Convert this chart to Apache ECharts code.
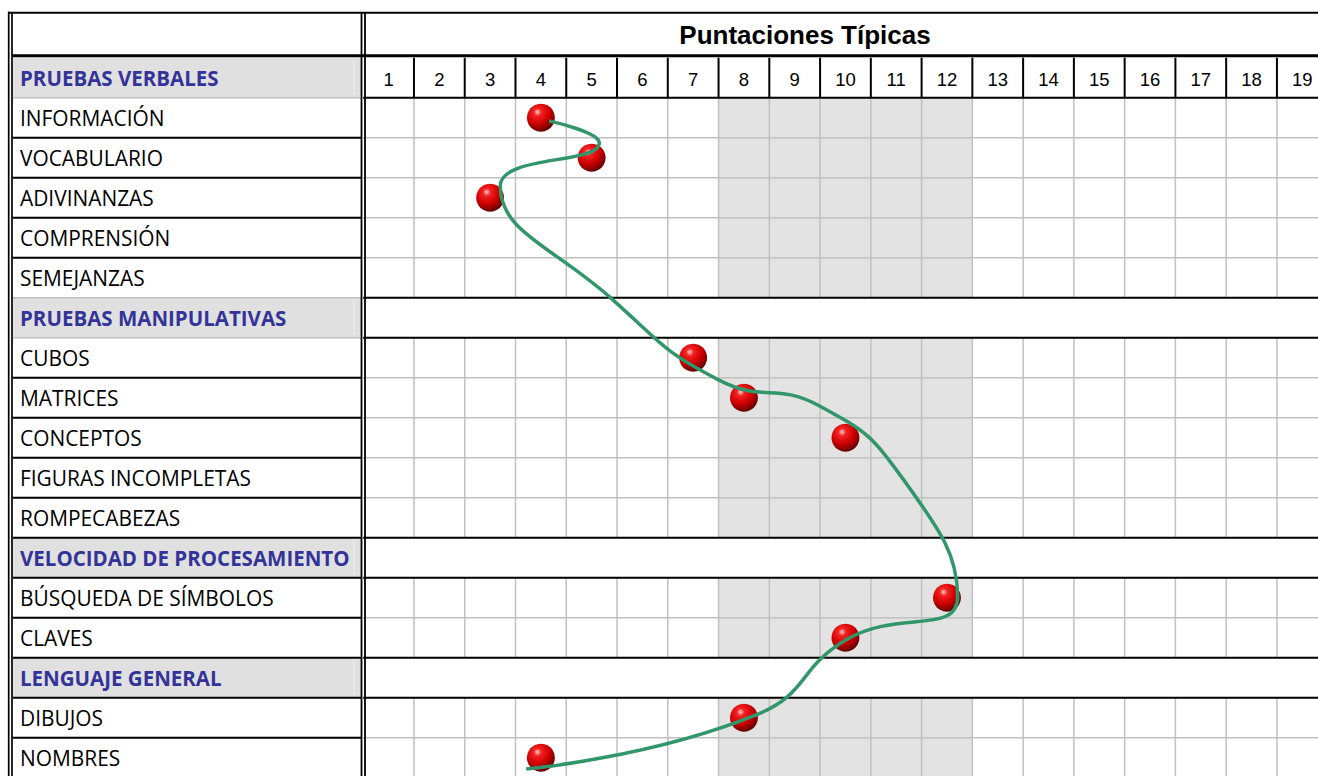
<!DOCTYPE html>
<html>
<head>
<meta charset="utf-8">
<script src="https://cdn.jsdelivr.net/npm/echarts@6/dist/echarts.min.js"></script>
<style>
html,body{margin:0;padding:0;background:#fff;}
#c{width:1318px;height:776px;}
</style>
</head>
<body>
<div id="c"></div>
<script>
// ---------------- data ----------------
const titleText = 'Puntaciones Típicas';
const scoreLabels = ['1','2','3','4','5','6','7','8','9','10','11','12','13','14','15','16','17','18','19'];
const rowLabels = [
  'PRUEBAS VERBALES','INFORMACIÓN','VOCABULARIO','ADIVINANZAS','COMPRENSIÓN','SEMEJANZAS',
  'PRUEBAS MANIPULATIVAS','CUBOS','MATRICES','CONCEPTOS','FIGURAS INCOMPLETAS','ROMPECABEZAS',
  'VELOCIDAD DE PROCESAMIENTO','BÚSQUEDA DE SÍMBOLOS','CLAVES',
  'LENGUAJE GENERAL','DIBUJOS','NOMBRES'
];
const sectionRows = [1,0,0,0,0,0,1,0,0,0,0,0,1,0,0,1,0,0];
const scores = [null,4,5,3,null,null,null,7,8,10,null,null,null,12,10,null,8,4];
const shadedRange = [8, 12];
// green profile curve (score, row)
const profileX = [4.16, 5.15, 3.20, 5.38, 7.51, 9.48, 11.15, 12.21, 10.03, 8.24, 3.71];
const profileY = [1.08, 1.63, 2.71, 5.51, 7.56, 8.20, 10.06, 12.98, 14.04, 15.93, 17.28];
// left-column rules drawn in light grey (row index of the rule's upper row)
const leftGreyRules = [0, 5, 6];

// ---------------- chart ----------------
const GREY = '#c0c0c0', BLACK = '#000000', SHADE = '#e3e3e3', SECBG = '#e0e0e0';
const labelFont = '"Open Sans", "Noto Sans", sans-serif';
const numFont = '"Liberation Sans", Arial, sans-serif';

const chart = echarts.init(document.getElementById('c'), null, {renderer: 'svg'});

function renderLeft(params, api) {
  const r = api.value(1);
  const c = api.coord([0, r]);
  const s = api.size([1, 1]);
  const x0 = c[0], w = s[0], h = s[1];
  const y0 = c[1] - h / 2, y1 = c[1] + h / 2;
  const children = [];
  if (sectionRows[r]) {
    children.push({type: 'rect', z2: 0, shape: {x: x0, y: y0, width: w, height: h}, style: {fill: SECBG}});
    children.push({type: 'line', z2: 1, shape: {x1: x0 + w - 7, y1: y0 + 3, x2: x0 + w - 7, y2: y1 - 3}, style: {stroke: '#f0f0f0', lineWidth: 1}});
  }
  const grey = leftGreyRules.indexOf(r) >= 0;
  children.push({type: 'line', z2: grey ? 2 : 3, shape: {x1: x0, y1: y1, x2: x0 + w, y2: y1},
    style: {stroke: grey ? GREY : BLACK, lineWidth: grey ? 1.5 : 2}});
  return {type: 'group', children};
}

function renderRight(params, api) {
  const r = api.value(0);
  const kind = r === 0 ? 0 : (sectionRows[r] ? 1 : 2); // 0 header, 1 section, 2 test
  const tl = api.coord([0.5, r - 0.5]);
  const br = api.coord([scoreLabels.length + 0.5, r + 0.5]);
  const children = [];
  if (kind === 2) {
    const a = api.coord([shadedRange[0] - 0.5, r - 0.5]);
    const b = api.coord([shadedRange[1] + 0.5, r + 0.5]);
    children.push({type: 'rect', z2: 0, shape: {x: a[0], y: a[1], width: b[0] - a[0], height: b[1] - a[1]}, style: {fill: SHADE}});
  }
  if (kind !== 1) {
    for (let k = 1; k < scoreLabels.length; k++) {
      const p = api.coord([k + 0.5, r]);
      children.push({type: 'line', z2: kind === 0 ? 3 : 1,
        shape: {x1: p[0], y1: tl[1], x2: p[0], y2: br[1]},
        style: {stroke: kind === 0 ? BLACK : GREY, lineWidth: kind === 0 ? 2 : 1.5}});
    }
  }
  const nextSection = r + 1 < rowLabels.length && sectionRows[r + 1];
  const blackRule = kind !== 2 || nextSection;
  children.push({type: 'line', z2: blackRule ? 3 : 1,
    shape: {x1: tl[0], y1: br[1], x2: br[0], y2: br[1]},
    style: {stroke: blackRule ? BLACK : GREY, lineWidth: blackRule ? 2 : 1.5}});
  return {type: 'group', children};
}

const ballColor = {
  type: 'radial', x: 0.38, y: 0.3, r: 0.75,
  colorStops: [
    {offset: 0, color: '#ffd0d0'},
    {offset: 0.18, color: '#f42222'},
    {offset: 0.55, color: '#d00000'},
    {offset: 1, color: '#560000'}
  ]
};

const frameStyle = {stroke: BLACK, lineWidth: 2};

const option = {
  animation: false,
  backgroundColor: '#ffffff',
  title: {
    text: titleText, left: 800, top: 17, textAlign: 'center',
    textStyle: {fontFamily: numFont, fontSize: 26, fontWeight: 'bold', color: '#000'}
  },
  grid: [
    {left: 13, top: 57.7, width: 348, height: 720, containLabel: false, outerBoundsMode: 'none'},
    {left: 363.2, top: 57.7, width: 964.5, height: 720, containLabel: false, outerBoundsMode: 'none'}
  ],
  xAxis: [
    {gridIndex: 0, type: 'value', min: 0, max: 1, show: false},
    {gridIndex: 1, type: 'value', min: 0.5, max: 19.5, show: false},
    {gridIndex: 1, type: 'category', position: 'top', data: scoreLabels, boundaryGap: true,
      axisLine: {show: false}, axisTick: {show: false}, splitLine: {show: false},
      axisLabel: {inside: true, interval: 0, margin: 22, verticalAlign: 'middle',
        fontFamily: numFont, fontSize: 18.5, color: '#000'}}
  ],
  yAxis: [
    {gridIndex: 0, type: 'category', data: rowLabels, inverse: true, z: 10,
      axisLine: {show: false}, axisTick: {show: false}, splitLine: {show: false},
      axisLabel: {inside: true, interval: 0, margin: 7,
        formatter: function (v, i) { return sectionRows[i] ? '{s|' + v + '}' : '{t|' + v + '}'; },
        rich: {
          s: {fontFamily: labelFont, fontSize: 20.5, fontWeight: 'bold', color: '#333399'},
          t: {fontFamily: labelFont, fontSize: 20.9, color: '#000'}
        }}},
    {gridIndex: 1, type: 'value', min: -0.5, max: 17.5, inverse: true, show: false}
  ],
  series: [
    {type: 'custom', xAxisIndex: 0, yAxisIndex: 0, z: 1, silent: true,
      data: rowLabels.map((_, i) => [0, i]), encode: {x: 0, y: 1}, renderItem: renderLeft},
    {type: 'custom', xAxisIndex: 1, yAxisIndex: 1, z: 1, silent: true,
      data: rowLabels.map((_, i) => [i]), encode: {y: 0}, renderItem: renderRight},
    {type: 'scatter', xAxisIndex: 1, yAxisIndex: 1, z: 3, symbol: 'circle', symbolSize: 28,
      itemStyle: {color: ballColor, opacity: 1},
      data: scores.map((v, i) => v == null ? null : [v, i]).filter(d => d)},
    {type: 'line', xAxisIndex: 1, yAxisIndex: 1, z: 4, smooth: 0.5, showSymbol: false, symbol: 'none',
      lineStyle: {color: '#31966a', width: 3.5},
      data: profileX.map((x, i) => [x, profileY[i]])}
  ],
  graphic: [
    {type: 'line', z: 100, shape: {x1: 8, y1: 12.7, x2: 1318, y2: 12.7}, style: frameStyle},
    {type: 'line', z: 100, shape: {x1: 12, y1: 55.7, x2: 1318, y2: 55.7}, style: {stroke: BLACK, lineWidth: 3}},
    {type: 'line', z: 100, shape: {x1: 8.7, y1: 11.7, x2: 8.7, y2: 776}, style: {stroke: BLACK, lineWidth: 1.7}},
    {type: 'line', z: 100, shape: {x1: 12, y1: 12.7, x2: 12, y2: 776}, style: {stroke: BLACK, lineWidth: 1.7}},
    {type: 'line', z: 100, shape: {x1: 361.5, y1: 12.7, x2: 361.5, y2: 776}, style: {stroke: BLACK, lineWidth: 1.8}},
    {type: 'line', z: 100, shape: {x1: 365, y1: 12.7, x2: 365, y2: 776}, style: {stroke: BLACK, lineWidth: 1.8}}
  ]
};
chart.setOption(option);
</script>
</body>
</html>
